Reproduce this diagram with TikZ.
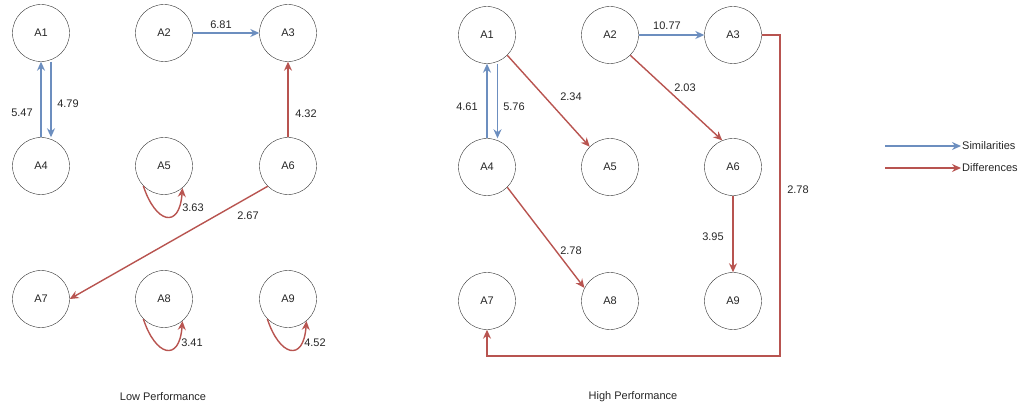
\documentclass[tikz,border=0pt]{standalone}
\usepackage{fontspec}
\setmainfont{Liberation Sans}
\usetikzlibrary{arrows.meta}
\definecolor{simblue}{HTML}{6C8EBF}
\definecolor{diffred}{HTML}{B85450}
\begin{document}
\begin{tikzpicture}[x=1pt,y=-1pt,
  font=\fontsize{11}{13}\selectfont, text=black!85,
  state/.style={draw=black!80,circle,minimum size=57pt,inner sep=0pt},
  sim/.style={draw=simblue,line width=1.4pt,-{Stealth[length=9pt,width=8pt]}},
  diff/.style={draw=diffred,line width=1.4pt,-{Stealth[length=9pt,width=8pt]}}]
\useasboundingbox (0,0) rectangle (1024,411);
% low performance
\node[state] (l1) at (41,33) {A1};
\node[state] (l2) at (164,33) {A2};
\node[state] (l3) at (288,33) {A3};
\node[state] (l4) at (41,166) {A4};
\node[state] (l5) at (164,166) {A5};
\node[state] (l6) at (288,166) {A6};
\node[state] (l7) at (41,299) {A7};
\node[state] (l8) at (164,299) {A8};
\node[state] (l9) at (288,299) {A9};
\draw[sim] (l4.north) -- (l1.south);
\draw[sim] ([xshift=10pt]l1.south) -- ([xshift=10pt]l4.north);
\draw[sim] (l2.east) -- (l3.west);
\draw[diff] (l6.north) -- (l3.south);
\draw[diff] (l6.south west) -- (l7.east);
\draw[diff] (l5.-136) .. controls +(12,37) and +(-3,42) .. (l5.-50);
\draw[diff] (l8.-136) .. controls +(12,37) and +(-3,42) .. (l8.-50);
\draw[diff] (l9.-136) .. controls +(12,37) and +(-3,42) .. (l9.-50);
\node (w547) at (22,113) {5.47};
\node (w479) at (68,104) {4.79};
\node (w681) at (221,25) {6.81};
\node (w432) at (306,114) {4.32};
\node (w363) at (193,208) {3.63};
\node (w267) at (248,216) {2.67};
\node (w341) at (192,343) {3.41};
\node (w452) at (315,343) {4.52};
\node (lowtitle) at (163,397) {Low Performance};
% high performance
\node[state] (r1) at (487,35) {A1};
\node[state] (r2) at (610,35) {A2};
\node[state] (r3) at (733,35) {A3};
\node[state] (r4) at (487,167) {A4};
\node[state] (r5) at (610,167) {A5};
\node[state] (r6) at (733,167) {A6};
\node[state] (r7) at (487,301) {A7};
\node[state] (r8) at (610,301) {A8};
\node[state] (r9) at (733,301) {A9};
\coordinate (rturn) at (780,356);
\draw[sim] (r4.north) -- (r1.south);
\draw[sim] ([xshift=10.5pt]r1.south) -- ([xshift=10.5pt]r4.north);
\draw[sim] (r2.east) -- (r3.west);
\draw[diff] (r1.south east) -- (r5.north west);
\draw[diff] (r2.south east) -- (r6.112);
\draw[diff] (r4.south east) -- (r8.153);
\draw[diff] (r6.south) -- (r9.north);
\draw[diff] (r3.east) -| (rturn) -| (r7.south);
\node (w461) at (467,107) {4.61};
\node (w576) at (514,107) {5.76};
\node (w234) at (571,97) {2.34};
\node (w1077) at (667,26) {10.77};
\node (w203) at (685,88) {2.03};
\node (w278a) at (571,251) {2.78};
\node (w395) at (713,237) {3.95};
\node (w278b) at (798,190) {2.78};
\node (hightitle) at (633,397) {High Performance};
% legend
\coordinate (simstart) at (885,146);
\coordinate (diffstart) at (885,168);
\node[anchor=west,inner sep=1pt] (simtext) at (961,146) {Similarities};
\node[anchor=west,inner sep=1pt] (difftext) at (961,168) {Differences};
\draw[sim] (simstart) -- (simtext.west);
\draw[diff] (diffstart) -- (difftext.west);
\end{tikzpicture}
\end{document}
